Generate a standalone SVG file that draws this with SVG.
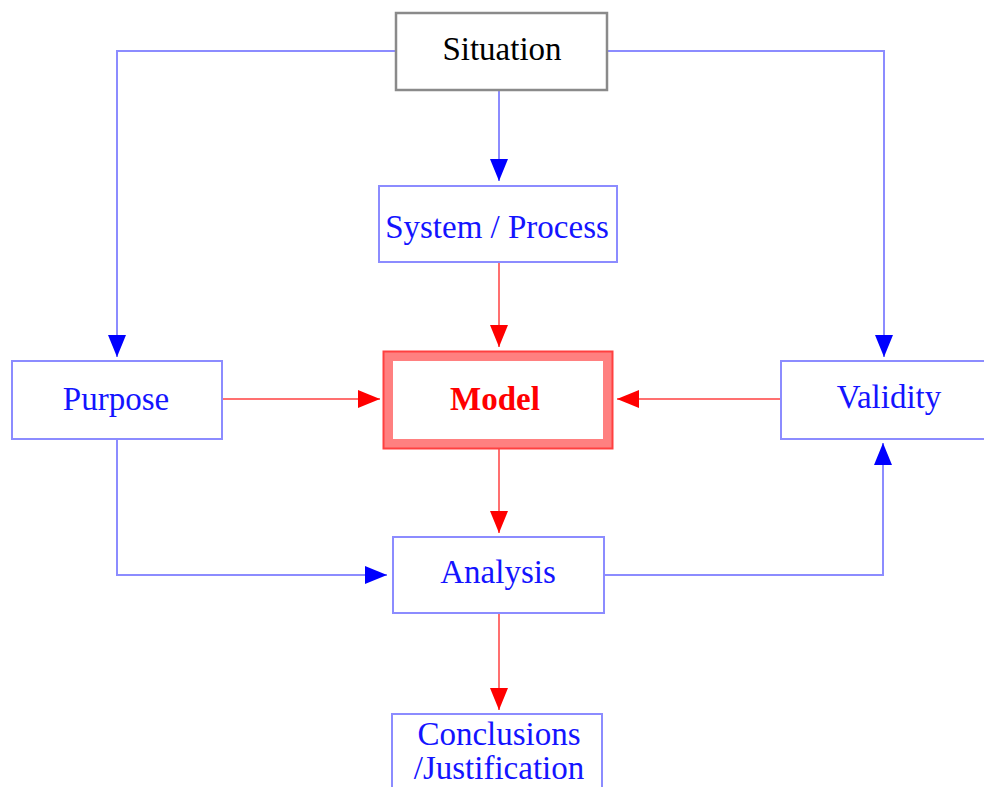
<svg xmlns="http://www.w3.org/2000/svg" width="984" height="787" viewBox="0 0 984 787">
<style>
.box{fill:#fff;stroke:#8c8cff;stroke-width:2}
.t{font-family:"Liberation Serif","Times New Roman",serif;font-size:33px;text-anchor:middle;fill:#1414ff}
.bl{fill:none;stroke:#8c8cff;stroke-width:2}
.rl{fill:none;stroke:#ff7070;stroke-width:2}
</style>
<defs>
<marker id="ab" markerUnits="userSpaceOnUse" markerWidth="22" markerHeight="20" refX="22" refY="10" orient="auto"><path d="M0,1 L22,10 L0,19 Z" fill="#0000ff"/></marker>
<marker id="ar" markerUnits="userSpaceOnUse" markerWidth="22" markerHeight="20" refX="22" refY="10" orient="auto"><path d="M0,1 L22,10 L0,19 Z" fill="#ff0000"/></marker>
</defs>
<rect width="984" height="787" fill="#fff"/>
<g id="connectors">
<path class="bl" d="M396,51 H117 V357" marker-end="url(#ab)"/>
<path class="bl" d="M607,51 H884 V357" marker-end="url(#ab)"/>
<path class="bl" d="M499,90 V181" marker-end="url(#ab)"/>
<path class="bl" d="M117,439 V575 H387" marker-end="url(#ab)"/>
<path class="bl" d="M604,575 H883 V443" marker-end="url(#ab)"/>
<path class="rl" d="M499,262 V347" marker-end="url(#ar)"/>
<path class="rl" d="M222,399 H380" marker-end="url(#ar)"/>
<path class="rl" d="M781,399 H617" marker-end="url(#ar)"/>
<path class="rl" d="M499,449 V533" marker-end="url(#ar)"/>
<path class="rl" d="M499,613 V710" marker-end="url(#ar)"/>
</g>
<g id="situation">
<rect x="396" y="13" width="211" height="77" fill="#fff" stroke="#8a8a8a" stroke-width="2.5"/>
<text class="t" x="502" y="60" style="fill:#000">Situation</text>
</g>
<g id="system">
<rect class="box" x="379" y="186" width="238" height="76"/>
<text class="t" x="497" y="238">System / Process</text>
</g>
<g id="purpose">
<rect class="box" x="12" y="361" width="210" height="78"/>
<text class="t" x="116" y="410">Purpose</text>
</g>
<g id="model">
<rect x="388" y="356" width="220" height="88" fill="#fff" stroke="#ff8080" stroke-width="10"/>
<rect x="383.5" y="351.5" width="229" height="97" fill="none" stroke="#ff4040" stroke-width="2"/>
<text class="t" x="495" y="410" style="fill:#ff0000;font-weight:bold">Model</text>
</g>
<g id="validity">
<rect class="box" x="781" y="361" width="214" height="78"/>
<text class="t" x="889" y="408">Validity</text>
</g>
<g id="analysis">
<rect class="box" x="393" y="537" width="211" height="76"/>
<text class="t" x="498" y="583">Analysis</text>
</g>
<g id="conclusions">
<rect class="box" x="392" y="714" width="210" height="90"/>
<text class="t" x="499" y="745">Conclusions</text>
<text class="t" x="499" y="779">/Justification</text>
</g>
</svg>
